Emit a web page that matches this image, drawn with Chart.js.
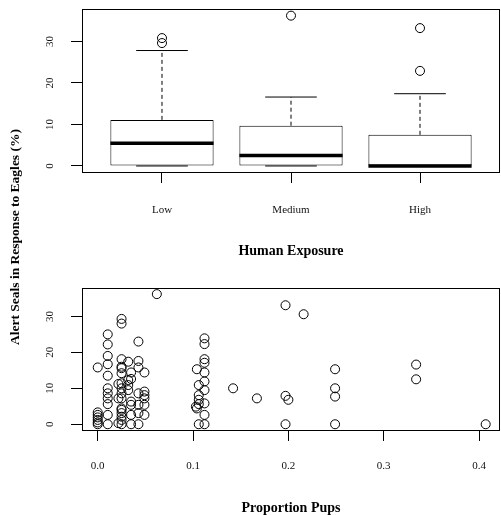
<!DOCTYPE html>
<html>
<head>
<meta charset="utf-8">
<script src="https://cdn.jsdelivr.net/npm/chart.js@4"></script>
<style>
  body { margin: 0; background: #fff; overflow: hidden; }
  #wrap { position: relative; width: 501px; height: 515px; overflow: hidden; }
  canvas { position: absolute; left: 0; }
  #boxCanvas { top: 0; }
  #pupCanvas { top: 265px; }
  #yTitle {
    position: absolute; left: 15px; top: 237px;
    transform: translate(-50%, -50%) rotate(-90deg);
    font: bold 13.5px "Liberation Serif", serif; white-space: nowrap; color: #000;
  }
</style>
</head>
<body>
<div id="wrap">
  <canvas id="boxCanvas" width="501" height="260"></canvas>
  <canvas id="pupCanvas" width="501" height="252"></canvas>
  <div id="yTitle">Alert Seals in Response to Eagles (%)</div>
</div>
<script>
// box plot: Human Exposure
const categories = ["Low", "Medium", "High"];
const boxLow = [0, 0, 0];
const boxQ1 = [0, 0, 0];
const boxMedian = [5.5, 2.5, 0];
const boxQ3 = [11.1, 9.7, 7.5];
const boxHigh = [27.8, 16.6, 17.4];
const outlierGroup = [0, 0, 1, 2, 2];
const outlierValue = [30.8, 29.6, 36.2, 33.2, 22.9];
const boxTicks = [0, 10, 20, 30];

// scatter: Proportion Pups
const pupX = [
  0, 0, 0, 0, 0, 0, 0,
  0.0105, 0.0105, 0.0105, 0.0105, 0.0105, 0.0105, 0.0105, 0.0105, 0.0105, 0.0105, 0.0105,
  0.0217, 0.0217, 0.0217,
  0.025, 0.025, 0.025, 0.025, 0.025, 0.025, 0.025, 0.025, 0.025, 0.025, 0.025, 0.025, 0.025, 0.025, 0.025, 0.025,
  0.032, 0.032, 0.032, 0.032,
  0.035, 0.035, 0.035, 0.035, 0.035, 0.035,
  0.0427, 0.0427, 0.0427, 0.0427, 0.0427, 0.0427, 0.0427,
  0.049, 0.049, 0.049, 0.049, 0.049, 0.049,
  0.062,
  0.103, 0.104, 0.104,
  0.106, 0.106, 0.106, 0.106, 0.106,
  0.112, 0.112, 0.112, 0.112, 0.112, 0.112, 0.112, 0.112, 0.112, 0.112,
  0.142, 0.167, 0.197, 0.197, 0.197, 0.2, 0.216,
  0.249, 0.249, 0.249, 0.249,
  0.334, 0.334, 0.407
];
const alertY = [
  15.8, 3.3, 2.6, 1.9, 1.2, 0.5, 0,
  25.0, 22.2, 19.0, 16.7, 13.5, 10.0, 8.6, 7.2, 5.6, 2.6, 0,
  11.2, 7.2, 0.3,
  29.3, 28.0, 18.1, 16.0, 15.6, 14.2, 11.4, 10.0, 8.6, 7.2, 4.4, 4.0, 3.1, 2.1, 1.2, 0,
  17.4, 12.3, 10.9, 9.5,
  14.4, 12.6, 6.3, 5.4, 2.6, 0,
  23.0, 17.6, 15.8, 8.6, 5.4, 3.1, 0,
  14.4, 9.1, 8.1, 7.2, 5.4, 2.6,
  36.2,
  4.9, 15.3, 4.4,
  10.9, 8.1, 6.8, 5.6, 0,
  23.9, 22.3, 18.1, 17.1, 14.4, 11.9, 9.5, 5.8, 2.6, 0,
  10, 7.2, 33.1, 7.9, 0, 6.8, 30.6,
  15.3, 10, 7.7, 0,
  16.6, 12.5, 0
];
const pupTicks = [0, 0.1, 0.2, 0.3, 0.4];
const pupTickLabels = ["0.0", "0.1", "0.2", "0.3", "0.4"];
const alertTicks = [0, 10, 20, 30];

const serif = "'Liberation Serif', 'DejaVu Serif', serif";
Chart.defaults.font.family = serif;
Chart.defaults.color = "#111";

// R style box round the plot region
const framePlugin = {
  id: "frame",
  afterDatasetsDraw(chart) {
    const a = chart.chartArea;
    const ctx = chart.ctx;
    ctx.save();
    ctx.strokeStyle = "#000";
    ctx.lineWidth = 1;
    ctx.strokeRect(Math.round(a.left) + 0.5, Math.round(a.top) + 0.5,
      Math.round(a.right - a.left) - 1, Math.round(a.bottom - a.top));
    ctx.restore();
  }
};

function axisGrid() {
  return { display: true, offset: false, drawOnChartArea: false, drawTicks: true, tickLength: 11, color: "#000" };
}

// fixed axis sizes, no label overhang padding
function fitX(h) {
  return s => { s.height = h; s.paddingLeft = 0; s.paddingRight = 0; };
}
function fitY(w) {
  return s => { s.width = w; s.paddingTop = 0; s.paddingBottom = 0; };
}

// segments for the box plot parts
const medianLine = [], whiskerLine = [], capLine = [];
categories.forEach((c, i) => {
  const x = i + 1;
  medianLine.push({ x: x - 0.4, y: boxMedian[i] }, { x: x + 0.4, y: boxMedian[i] }, { x: x, y: null });
  whiskerLine.push({ x: x, y: boxQ3[i] }, { x: x, y: boxHigh[i] }, { x: x, y: null });
  whiskerLine.push({ x: x, y: boxQ1[i] }, { x: x, y: boxLow[i] }, { x: x, y: null });
  capLine.push({ x: x - 0.2, y: boxHigh[i] }, { x: x + 0.2, y: boxHigh[i] }, { x: x, y: null });
  capLine.push({ x: x - 0.2, y: boxLow[i] }, { x: x + 0.2, y: boxLow[i] }, { x: x, y: null });
});

const boxChart = new Chart(document.querySelector("#boxCanvas"), {
  type: "bar",
  data: {
    datasets: [
      {
        type: "bar",
        data: categories.map((c, i) => ({ x: i + 1, y: [boxQ1[i], boxQ3[i]] })),
        backgroundColor: "#fff",
        borderColor: "#000",
        borderWidth: 1,
        borderSkipped: false,
        barPercentage: 0.8,
        categoryPercentage: 1,
        order: 4
      },
      {
        type: "line",
        data: whiskerLine,
        borderColor: "#000",
        borderWidth: 1,
        borderDash: [4, 3],
        pointRadius: 0,
        spanGaps: false,
        order: 3
      },
      {
        type: "line",
        data: capLine,
        borderColor: "#000",
        borderWidth: 1,
        pointRadius: 0,
        spanGaps: false,
        order: 2
      },
      {
        type: "line",
        data: medianLine,
        borderColor: "#000",
        borderWidth: 3.5,
        borderCapStyle: "butt",
        pointRadius: 0,
        spanGaps: false,
        order: 1
      },
      {
        type: "line",
        data: outlierGroup.map((g, i) => ({ x: g + 1, y: outlierValue[i] })),
        showLine: false,
        pointRadius: 4.5,
        pointBorderWidth: 1,
        pointBorderColor: "#000",
        pointBackgroundColor: "rgba(0,0,0,0)",
        order: 0
      }
    ]
  },
  options: {
    responsive: false,
    animation: false,
    devicePixelRatio: 1,
    layout: { autoPadding: false, padding: { top: 9, right: 1, left: 0, bottom: 0 } },
    plugins: { legend: { display: false }, tooltip: { enabled: false } },
    scales: {
      x: {
        type: "linear",
        offset: false,
        min: 0.38,
        max: 3.62,
        grid: axisGrid(),
        border: { display: false },
        afterBuildTicks: s => { s.ticks = categories.map((c, i) => ({ value: i + 1 })); },
        afterFit: fitX(88),
        ticks: {
          callback: (v) => categories[Math.round(v) - 1],
          font: { size: 11 },
          padding: 21,
          maxRotation: 0,
          color: "#111"
        },
        title: {
          display: true,
          text: "Human Exposure",
          font: { size: 14, weight: "bold" },
          padding: { top: 0, bottom: 0 },
          color: "#000"
        }
      },
      y: {
        min: -1.45,
        max: 37.8,
        grid: axisGrid(),
        border: { display: false },
        afterBuildTicks: s => { s.ticks = boxTicks.map(v => ({ value: v })); },
        afterFit: fitY(82),
        ticks: {
          font: { size: 11 },
          minRotation: 90,
          maxRotation: 90,
          crossAlign: "center",
          padding: 15,
          color: "#111"
        }
      }
    }
  },
  plugins: [framePlugin]
});

const pupChart = new Chart(document.querySelector("#pupCanvas"), {
  type: "scatter",
  data: {
    datasets: [{
      data: pupX.map((x, i) => ({ x: x, y: alertY[i] })),
      pointRadius: 4.5,
      pointBorderWidth: 1,
      pointBorderColor: "#000",
      pointBackgroundColor: "rgba(0,0,0,0)"
    }]
  },
  options: {
    responsive: false,
    animation: false,
    devicePixelRatio: 1,
    layout: { autoPadding: false, padding: { top: 23, right: 1, left: 0, bottom: 0 } },
    plugins: { legend: { display: false }, tooltip: { enabled: false } },
    scales: {
      x: {
        type: "linear",
        min: -0.0165,
        max: 0.422,
        grid: axisGrid(),
        border: { display: false },
        afterBuildTicks: s => { s.ticks = pupTicks.map(v => ({ value: v })); },
        afterFit: fitX(87),
        ticks: {
          callback: (v) => pupTickLabels[pupTicks.indexOf(v)],
          font: { size: 11 },
          padding: 19,
          maxRotation: 0,
          color: "#111"
        },
        title: {
          display: true,
          text: "Proportion Pups",
          font: { size: 14, weight: "bold" },
          padding: { top: 0, bottom: 0 },
          color: "#000"
        }
      },
      y: {
        min: -1.6,
        max: 37.9,
        grid: axisGrid(),
        border: { display: false },
        afterBuildTicks: s => { s.ticks = alertTicks.map(v => ({ value: v })); },
        afterFit: fitY(82),
        ticks: {
          font: { size: 11 },
          minRotation: 90,
          maxRotation: 90,
          crossAlign: "center",
          padding: 15,
          color: "#111"
        }
      }
    }
  },
  plugins: [framePlugin]
});
</script>
</body>
</html>
